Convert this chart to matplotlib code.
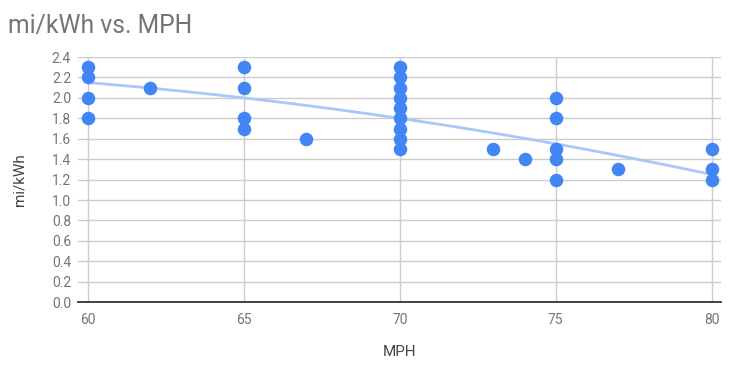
import numpy as np
import matplotlib
matplotlib.use("Agg")
import matplotlib.pyplot as plt

plt.rcParams['font.family'] = ['Roboto', 'DejaVu Sans']

# speed (MPH) and efficiency (mi/kWh) readings
mph = [60, 60, 60, 60,
       62,
       65, 65, 65, 65,
       67,
       70, 70, 70, 70, 70, 70, 70, 70, 70,
       73,
       74,
       75, 75, 75, 75, 75,
       77,
       80, 80, 80]
mi_kwh = [2.3, 2.2, 2.0, 1.8,
          2.1,
          2.3, 2.1, 1.8, 1.7,
          1.6,
          2.3, 2.2, 2.1, 2.0, 1.9, 1.8, 1.7, 1.6, 1.5,
          1.5,
          1.4,
          2.0, 1.8, 1.5, 1.4, 1.2,
          1.3,
          1.5, 1.3, 1.2]
# trendline values (quadratic trend)
trend_mph = [60, 70, 80]
trend_val = [2.15, 1.80, 1.25]
x_ticks = [60, 65, 70, 75, 80]
y_ticks = np.arange(0, 2.41, 0.2)

grey = "#757575"

fig = plt.figure(figsize=(7.29, 3.68), dpi=100)
ax = fig.add_axes([0.107, 0.179, 0.882, 0.666])

coef = np.polyfit(trend_mph, trend_val, 2)
xs = np.linspace(60, 80, 200)
ax.plot(xs, np.polyval(coef, xs), color="#a8c7fa", lw=2, zorder=2)

ax.scatter(mph, mi_kwh, s=95, color="#4285f4", zorder=3, linewidths=0)

ax.set_xlim(59.68, 80.3)
ax.set_ylim(0, 2.4)
ax.set_xticks(x_ticks)
ax.set_yticks(y_ticks)
ax.set_yticklabels(["{:.1f}".format(v) for v in y_ticks])
ax.grid(True, color="#cccccc", lw=1)
ax.set_axisbelow(True)
for s in ["top", "right", "left"]:
    ax.spines[s].set_visible(False)
ax.spines["bottom"].set_color("#333333")
ax.spines["bottom"].set_linewidth(1.3)
ax.tick_params(length=0, colors=grey, labelsize=10, pad=5)
ax.tick_params(axis="x", pad=8)

ax.set_xlabel("MPH", color="#444444", fontsize=11, labelpad=13)
ax.set_ylabel("mi/kWh", color="#444444", fontsize=11, labelpad=18)
fig.text(0.011, 0.91, "mi/kWh vs. MPH", color=grey, fontsize=17.8, va="baseline")

fig.savefig("out.png", dpi=100)
